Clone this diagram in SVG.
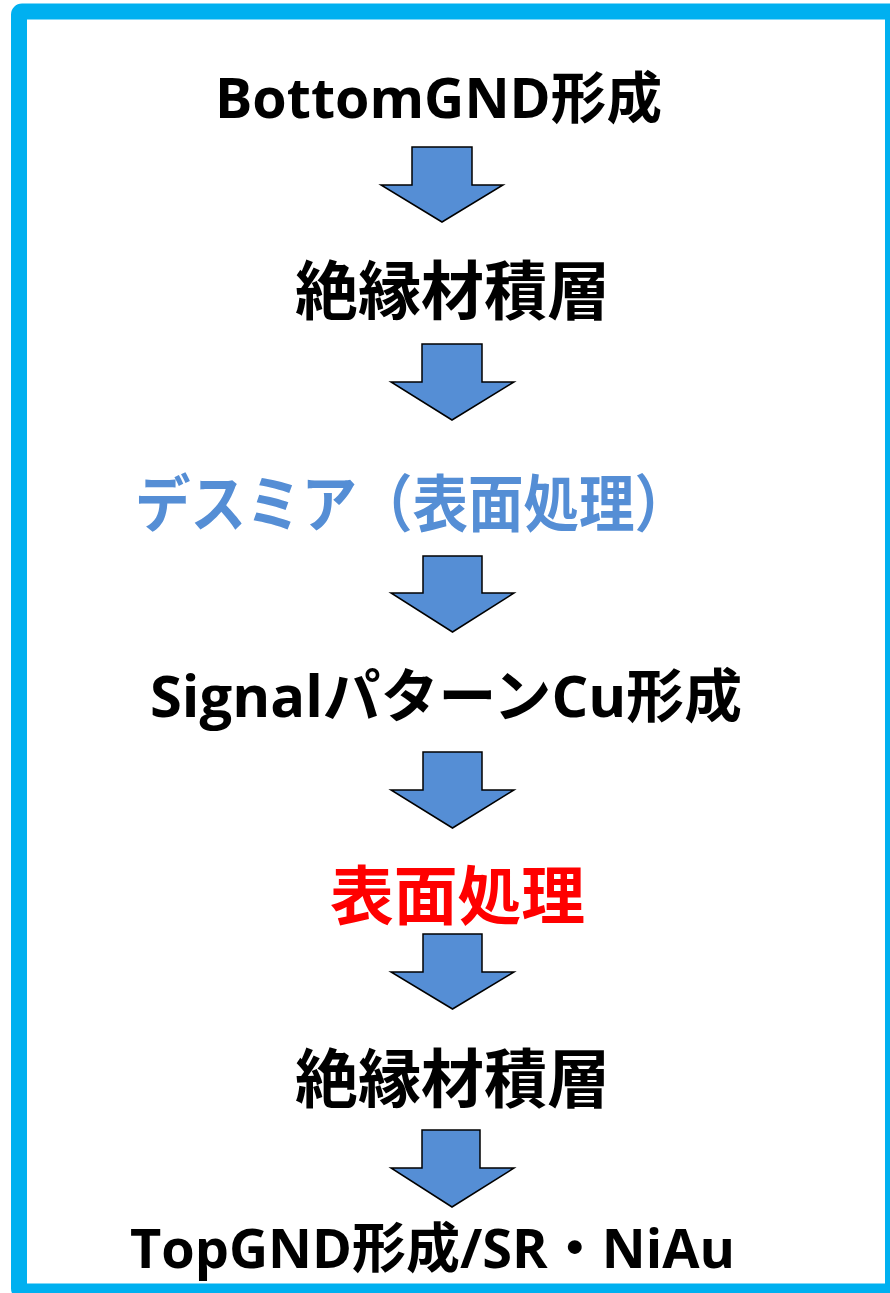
<svg xmlns="http://www.w3.org/2000/svg" width="890" height="1293" viewBox="0 0 890 1293">
<style>
.t{font-family:"Open Sans","Noto Sans CJK JP",sans-serif;font-weight:bold;fill:#000}
.b{fill:#558ED5}
.r{fill:#FF0000}
.arr{fill:#558ED5;stroke:#000;stroke-width:1.5;stroke-linejoin:miter}
</style>
<rect x="0" y="0" width="890" height="1293" fill="#fff"/>
<rect id="frame" x="19" y="11.5" width="874" height="1280" rx="3" fill="#fff" stroke="#00B0F0" stroke-width="16"/>
<g id="n1"><text class="t" x="215" y="118" font-size="56" textLength="447" lengthAdjust="spacingAndGlyphs">BottomGND形成</text></g>
<g id="n2"><text class="t" x="295" y="314" font-size="64" textLength="315" lengthAdjust="spacingAndGlyphs">絶縁材積層</text></g>
<g id="n3"><text class="t b" x="135" y="527" font-size="62" textLength="555" lengthAdjust="spacingAndGlyphs">デスミア（表面処理）</text></g>
<g id="n4"><text class="t" x="150" y="717" font-size="58" textLength="592" lengthAdjust="spacingAndGlyphs">SignalパターンCu形成</text></g>
<g id="n5"><text class="t r" x="330" y="919" font-size="64" textLength="255" lengthAdjust="spacingAndGlyphs">表面処理</text></g>
<g id="n6"><text class="t" x="295" y="1102" font-size="64" textLength="315" lengthAdjust="spacingAndGlyphs">絶縁材積層</text></g>
<g id="n7"><text class="t" x="130" y="1268" font-size="54" textLength="605" lengthAdjust="spacingAndGlyphs">TopGND形成/SR・NiAu</text></g>
<g id="connectors">
<polygon class="arr" points="412,147 472,147 472,185 503,185 442,222 381,185 412,185"/>
<polygon class="arr" points="422,344 482,344 482,382 514,382 452,420 391,382 422,382"/>
<polygon class="arr" points="423,556 482,556 482,593 514,593 452.5,632 391,593 423,593"/>
<polygon class="arr" points="423,752 482,752 482,790 514,790 452.5,828 391,790 423,790"/>
<polygon class="arr" points="423,934 482,934 482,972 514,972 452.5,1009 391,972 423,972"/>
<polygon class="arr" points="422,1130 480,1130 480,1168 514,1168 452,1207 391,1168 422,1168"/>
</g>
</svg>
